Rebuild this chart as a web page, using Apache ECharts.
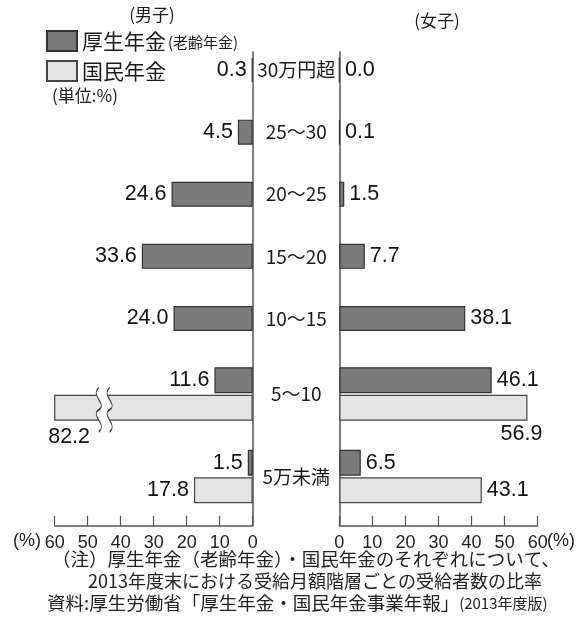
<!DOCTYPE html>
<html><head><meta charset="utf-8">
<script src="https://cdn.jsdelivr.net/npm/echarts@6/dist/echarts.min.js"></script>
<style>html,body{margin:0;padding:0;background:#fff}#c{width:586px;height:619px}</style>
</head><body><div id="c"></div>
<script>
// ---- data ----
const rowLabels     = ['30万円超', '25～30', '20～25', '15～20', '10～15', '5～10', '5万未満'];
const maleKosei     = [0.3, 4.5, 24.6, 33.6, 24.0, 11.6, 1.5];
const maleKokumin   = [null, null, null, null, null, 82.2, 17.8];
const femaleKosei   = [0.0, 0.1, 1.5, 7.7, 38.1, 46.1, 6.5];
const femaleKokumin = [null, null, null, null, null, 56.9, 43.1];
const seriesNames   = ['厚生年金', '国民年金'];
const axisMax = 60, axisStep = 10;
const splitAt = 5; // rows with a single pension bar

// ---- style ----
const CJK = "'Noto Sans CJK JP', sans-serif";
const NUM = "'Liberation Sans', Arial, sans-serif";
const darkStyle  = {color: '#7a7a7a', borderColor: '#333', borderWidth: 1.2};
const lightStyle = {color: '#e4e4e4', borderColor: '#444', borderWidth: 1.2};
const AX = '#555';

const GL = {left: 54.7, right: 586 - 252.7};
const GR = {left: 339.3, right: 586 - 537.7};
const TOP = {top: 39, height: 310.5};
const BOT = {top: 352.75, height: 165};
const AXG = {top: 52, bottom: 619 - 525.7};

function fmt(p) { return p.value == null ? '' : Number(p.value).toFixed(1); }
function lbl(pos) {
  return {show: true, position: pos, distance: 5, fontFamily: NUM, fontSize: 21.5, color: '#111', formatter: fmt};
}

const breakFill = 'path://M5,0 C0,8 10,16 5,22 C0,28 10,36 5,44 L11,44 C16,36 6,28 11,22 C16,16 6,8 11,0 Z';
const breakLine = 'path://M5,0 C0,8 10,16 5,22 C0,28 10,36 5,44 M11,44 C16,36 6,28 11,22 C16,16 6,8 11,0';

function kokuminData(arr, side) {
  return arr.slice(splitAt).map((v, i) => {
    const cat = rowLabels[splitAt + i];
    if (v > axisMax) {
      return {value: v, label: {position: ['0%', '100%'], align: 'center', verticalAlign: 'top', offset: [15, 5]}};
    }
    if (cat === '5～10' && side === 'R') {
      return {value: v, label: {position: ['100%', '100%'], align: 'center', verticalAlign: 'top', offset: [-6, 2]}};
    }
    return v;
  });
}
function breakMarks(arr) {
  const d = [];
  arr.slice(splitAt).forEach((v, i) => {
    if (v > axisMax) {
      const cat = rowLabels[splitAt + i];
      d.push({coord: [45, cat], symbol: breakFill, itemStyle: {color: '#fff', borderWidth: 0}});
      d.push({coord: [45, cat], symbol: breakLine, itemStyle: {color: 'none', borderColor: '#333', borderWidth: 1.2}});
    }
  });
  return {silent: true, symbolSize: [16, 44], symbolOffset: [0, 2], label: {show: false}, data: d};
}

const hiddenX = (inv) => ({type: 'value', min: 0, max: axisMax, inverse: inv, show: false});
const hiddenY = (cats, gi) => ({type: 'category', data: cats, inverse: true, gridIndex: gi, show: false});
const labelY = (cats, gi) => ({
  type: 'category', data: cats, inverse: true, gridIndex: gi,
  axisLine: {show: false}, axisTick: {show: false}, splitLine: {show: false},
  axisLabel: {show: true, margin: 43, align: 'center', fontFamily: CJK, fontSize: 19, color: '#1a1a1a'}
});
const frameX = (inv, gi) => ({
  type: 'value', gridIndex: gi, min: 0, max: axisMax, interval: axisStep, inverse: inv,
  axisLine: {show: true, onZero: false, lineStyle: {color: AX, width: 1.5}},
  axisTick: {show: true, inside: true, length: 10, lineStyle: {color: AX, width: 1.2}},
  splitLine: {show: false},
  axisLabel: {margin: 8, fontFamily: NUM, fontSize: 18, color: '#222'}
});
const frameY = (pos, gi) => ({
  type: 'value', gridIndex: gi, min: 0, max: 1, position: pos,
  axisLine: {show: true, onZero: false, lineStyle: {color: AX, width: 1.5}},
  axisTick: {show: false}, axisLabel: {show: false}, splitLine: {show: false}
});

const topCats = rowLabels.slice(0, splitAt);
const botCats = rowLabels.slice(splitAt);

const option = {
  animation: false,
  backgroundColor: '#fff',
  legend: {
    data: seriesNames, orient: 'vertical', left: 46, top: 30, padding: 0,
    itemWidth: 30, itemHeight: 20, itemGap: 8, icon: 'rect',
    formatter: n => n === '厚生年金' ? '厚生年金{s|(老齢年金)}' : n,
    textStyle: {fontFamily: CJK, fontSize: 21, color: '#1a1a1a',
      rich: {s: {fontFamily: CJK, fontSize: 15, color: '#1a1a1a', verticalAlign: 'middle', padding: [3, 0, 0, 2]}}}
  },
  grid: [
    Object.assign({}, GL, AXG),
    Object.assign({}, GR, AXG),
    Object.assign({}, GL, TOP),
    Object.assign({}, GL, BOT),
    Object.assign({}, GR, TOP),
    Object.assign({}, GR, BOT)
  ],
  xAxis: [
    frameX(true, 0), frameX(false, 1),
    Object.assign(hiddenX(true), {gridIndex: 2}),
    Object.assign(hiddenX(true), {gridIndex: 3}),
    Object.assign(hiddenX(false), {gridIndex: 4}),
    Object.assign(hiddenX(false), {gridIndex: 5})
  ],
  yAxis: [
    frameY('right', 0), frameY('left', 1),
    hiddenY(topCats, 2), hiddenY(botCats, 3),
    labelY(topCats, 4), labelY(botCats, 5)
  ],
  series: [
    {type: 'bar', name: seriesNames[0], xAxisIndex: 2, yAxisIndex: 2, barWidth: 25,
      data: maleKosei.slice(0, splitAt), itemStyle: darkStyle, label: lbl('left')},
    {type: 'bar', name: seriesNames[0], xAxisIndex: 3, yAxisIndex: 3, barWidth: 26, barGap: '6%',
      data: maleKosei.slice(splitAt), itemStyle: darkStyle, label: lbl('left')},
    {type: 'bar', name: seriesNames[1], xAxisIndex: 3, yAxisIndex: 3, barWidth: 26, barGap: '6%',
      data: kokuminData(maleKokumin, 'L'), itemStyle: lightStyle, label: lbl('left'),
      markPoint: breakMarks(maleKokumin)},
    {type: 'bar', name: seriesNames[0], xAxisIndex: 4, yAxisIndex: 4, barWidth: 25,
      data: femaleKosei.slice(0, splitAt), itemStyle: darkStyle, label: lbl('right')},
    {type: 'bar', name: seriesNames[0], xAxisIndex: 5, yAxisIndex: 5, barWidth: 26, barGap: '6%',
      data: femaleKosei.slice(splitAt), itemStyle: darkStyle, label: lbl('right')},
    {type: 'bar', name: seriesNames[1], xAxisIndex: 5, yAxisIndex: 5, barWidth: 26, barGap: '6%',
      data: kokuminData(femaleKokumin, 'R'), itemStyle: lightStyle, label: lbl('right')}
  ],
  graphic: [
    {type: 'text', x: 152, y: 15, style: {text: '(男子)', fontFamily: CJK, fontSize: 17, fill: '#1a1a1a', align: 'center', verticalAlign: 'middle'}},
    {type: 'text', x: 437, y: 21, style: {text: '(女子)', fontFamily: CJK, fontSize: 17, fill: '#1a1a1a', align: 'center', verticalAlign: 'middle'}},
    {type: 'text', x: 52, y: 96, style: {text: '(単位:%)', fontFamily: CJK, fontSize: 17, fill: '#1a1a1a', align: 'left', verticalAlign: 'middle'}},
    {type: 'text', x: 13, y: 541, style: {text: '(%)', fontFamily: NUM, fontSize: 18, fill: '#222', align: 'left', verticalAlign: 'middle'}},
    {type: 'text', x: 547, y: 541, style: {text: '(%)', fontFamily: NUM, fontSize: 18, fill: '#222', align: 'left', verticalAlign: 'middle'}},
    {type: 'text', x: 52, y: 559, style: {text: '（注）厚生年金（老齢年金）・国民年金のそれぞれについて、', fontFamily: CJK, fontSize: 18.5, fill: '#222', align: 'left', verticalAlign: 'middle'}},
    {type: 'text', x: 88, y: 581, style: {text: '2013年度末における受給月額階層ごとの受給者数の比率', fontFamily: CJK, fontSize: 18, fill: '#222', align: 'left', verticalAlign: 'middle'}},
    {type: 'text', x: 47, y: 603, style: {text: '資料:厚生労働省「厚生年金・国民年金事業年報」{s|(2013年度版)}', fontFamily: CJK, fontSize: 18.5, fill: '#222', align: 'left', verticalAlign: 'middle',
      rich: {s: {fontFamily: CJK, fontSize: 15, fill: '#222', verticalAlign: 'middle'}}}}
  ]
};

const chart = echarts.init(document.getElementById('c'), null, {renderer: 'canvas'});
chart.setOption(option);
</script>
</body></html>
